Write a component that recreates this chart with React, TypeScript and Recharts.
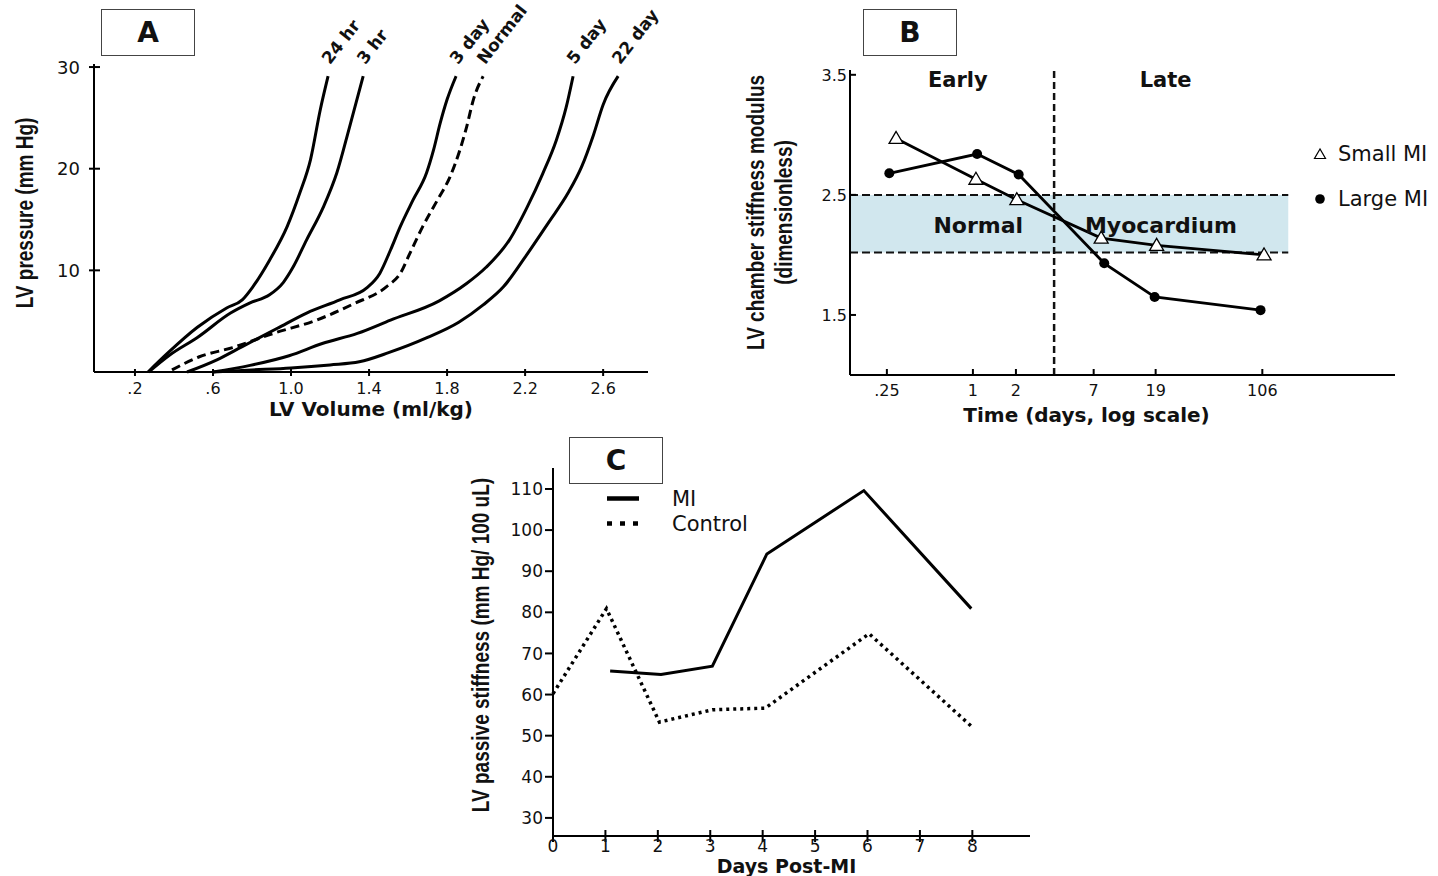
import {
  Label,
  Legend,
  Line,
  LineChart,
  ReferenceArea,
  ReferenceDot,
  ReferenceLine,
  XAxis,
  YAxis
} from "recharts";

const WIDE = '"DejaVu Sans", "Liberation Sans", sans-serif';
const NARROW = '"Liberation Sans", Arial, sans-serif';
const INK = "#111";

// Panel A: LV pressure-volume curves, [volume ml/kg, pressure mm Hg]
const volumeTicks = [0.2, 0.6, 1.0, 1.4, 1.8, 2.2, 2.6];
const pressureTicks = [10, 20, 30];

const pv24hr: [number, number][] = [
  [0.267, 0], [0.37, 1.9], [0.52, 4.4], [0.67, 6.3], [0.75, 7.1], [0.805, 8.4],
  [0.89, 11.0], [0.98, 14.3], [1.045, 17.6], [1.1, 20.9], [1.15, 25.8], [1.19, 29.1]
];
const pv3hr: [number, number][] = [
  [0.27, 0], [0.38, 1.7], [0.52, 3.4], [0.69, 5.8], [0.79, 6.8], [0.89, 7.6],
  [0.96, 8.8], [1.01, 10.3], [1.08, 13.0], [1.165, 16.2], [1.235, 19.6], [1.3, 24.1], [1.37, 29.1]
];
const pv3day: [number, number][] = [
  [0.467, 0], [0.62, 1.2], [0.75, 2.5], [0.93, 4.3], [1.08, 5.8], [1.25, 7.1], [1.39, 8.3],
  [1.455, 9.7], [1.51, 12.0], [1.56, 14.3], [1.625, 16.9], [1.695, 19.6], [1.73, 21.8],
  [1.765, 24.5], [1.8, 26.8], [1.846, 29.1]
];
const pvNormal: [number, number][] = [
  [0.39, 0.2], [0.53, 1.5], [0.7, 2.4], [0.91, 3.8], [1.13, 5.1], [1.32, 6.7], [1.49, 8.4],
  [1.56, 9.7], [1.61, 11.7], [1.675, 14.3], [1.75, 16.9], [1.815, 19.2], [1.865, 21.8],
  [1.9, 24.1], [1.935, 26.8], [1.985, 29.1]
];
const pv5day: [number, number][] = [
  [0.6, 0], [0.79, 0.65], [0.99, 1.6], [1.16, 2.8], [1.34, 3.8], [1.51, 5.1], [1.76, 7.0],
  [1.9, 8.7], [2.0, 10.3], [2.12, 13.0], [2.21, 16.2], [2.29, 19.5], [2.36, 22.8],
  [2.41, 26.0], [2.446, 29.1]
];
const pv22day: [number, number][] = [
  [0.6, 0], [0.8, 0.2], [1.0, 0.4], [1.2, 0.7], [1.35, 1.0], [1.5, 1.9], [1.7, 3.4],
  [1.86, 4.9], [1.985, 6.6], [2.09, 8.4], [2.2, 11.3], [2.32, 14.7], [2.42, 17.6],
  [2.49, 20.2], [2.55, 23.3], [2.6, 26.3], [2.677, 29.1]
];

// Panel B: chamber stiffness modulus vs time (days, log)
const timeTicks = [0.25, 1, 2, 7, 19, 106];
const modulusTicks = [1.5, 2.5, 3.5];
const smallMiDays = [0.29, 1.05, 2.03, 7.9, 19.3, 109];
const smallMiModulus = [2.97, 2.63, 2.46, 2.14, 2.08, 2.0];
const largeMiDays = [0.26, 1.07, 2.09, 8.3, 18.7, 103];
const largeMiModulus = [2.68, 2.84, 2.67, 1.93, 1.65, 1.54];
const normalBand = [2.02, 2.5];
const bandEndDay = 161;
const earlyLateSplit = 3.7;
const timeDomain = [0.138, 899];

// Panel C: passive stiffness vs days post-MI
const dayTicks = [0, 1, 2, 3, 4, 5, 6, 7, 8];
const stiffnessTicks = [30, 40, 50, 60, 70, 80, 90, 100, 110];
const miDays = [1.09, 2.06, 3.04, 4.08, 5.93, 7.98];
const miStiffness = [65.7, 64.9, 66.9, 94.2, 109.6, 80.9];
const controlDays = [0, 1.02, 2.03, 3.04, 4.05, 6.03, 7.98];
const controlStiffness = [60.2, 80.9, 53.3, 56.3, 56.7, 74.8, 52.3];

const fromPairs = (pts: [number, number][]) => pts.map(([x, y]) => ({ x, y }));
const zip = (xs: number[], ys: number[]) => xs.map((x, i) => ({ x, y: ys[i] }));

const pvCurves = [
  { name: "24 hr", data: fromPairs(pv24hr), dashed: false },
  { name: "3 hr", data: fromPairs(pv3hr), dashed: false },
  { name: "3 day", data: fromPairs(pv3day), dashed: false },
  { name: "Normal", data: fromPairs(pvNormal), dashed: true },
  { name: "5 day", data: fromPairs(pv5day), dashed: false },
  { name: "22 day", data: fromPairs(pv22day), dashed: false }
];

type TickOpts = {
  inner: number;
  outer: number;
  gap: number;
  fontSize: number;
  format?: (v: number) => string;
};

function bottomTick(o: TickOpts) {
  return (props: any) => {
    const { x, y, payload } = props;
    const text = o.format ? o.format(payload.value) : String(payload.value);
    return (
      <g>
        <line x1={x} x2={x} y1={y - o.inner} y2={y + o.outer} stroke="#000" strokeWidth={2} />
        <text x={x} y={y + o.gap} textAnchor="middle" fontSize={o.fontSize} fontFamily={WIDE} fill={INK}>
          {text}
        </text>
      </g>
    );
  };
}

function leftTick(o: TickOpts) {
  return (props: any) => {
    const { x, y, payload } = props;
    const text = o.format ? o.format(payload.value) : String(payload.value);
    return (
      <g>
        <line x1={x - o.outer} x2={x + o.inner} y1={y} y2={y} stroke="#000" strokeWidth={2} />
        <text x={x - o.outer - o.gap} y={y} dy="0.36em" textAnchor="end" fontSize={o.fontSize} fontFamily={WIDE} fill={INK}>
          {text}
        </text>
      </g>
    );
  };
}

// rotated axis title; the source figure is stretched sideways, so widen the glyphs a bit
function sideTitle(lines: { text: string; dx: number }[], dy: number) {
  return (props: any) => {
    const vb = props.viewBox || {};
    const cy = (vb.y ?? 0) + (vb.height ?? 0) / 2 + dy;
    return (
      <g>
        {lines.map((l) => {
          const cx = (vb.x ?? 0) + l.dx;
          return (
            <text
              key={l.text}
              x={0}
              y={0}
              transform={`translate(${cx} ${cy}) scale(1.22 1) rotate(-90)`}
              textAnchor="middle"
              dominantBaseline="central"
              fontFamily={NARROW}
              fontWeight="bold"
              fontSize={19}
              fill={INK}
            >
              {l.text}
            </text>
          );
        })}
      </g>
    );
  };
}

function bottomTitle(text: string, dx: number, baseline: number, fontSize: number) {
  return (props: any) => {
    const vb = props.viewBox || {};
    const x = (vb.x ?? 0) + (vb.width ?? 0) / 2 + dx;
    const y = (vb.y ?? 0) + baseline;
    return (
      <text x={x} y={y} textAnchor="middle" fontFamily={WIDE} fontWeight="bold" fontSize={fontSize} fill={INK}>
        {text}
      </text>
    );
  };
}

// label drawn at the top end of each pressure-volume curve
function endLabel(name: string, count: number) {
  return (props: any) => {
    const { cx, cy, index } = props;
    if (index !== count - 1 || cx == null) return <g key={`d${index}`} />;
    const x = cx + 2;
    const y = cy - 11;
    return (
      <text
        key={`d${index}`}
        x={x}
        y={y}
        transform={`rotate(-52, ${x}, ${y})`}
        fontFamily={WIDE}
        fontWeight="bold"
        fontSize={17}
        fill={INK}
      >
        {name}
      </text>
    );
  };
}

const TriangleDot = (props: any) => {
  const { cx, cy, index } = props;
  if (cx == null || cy == null) return <g key={`t${index}`} />;
  return (
    <polygon
      key={`t${index}`}
      points={`${cx},${cy - 7} ${cx - 7},${cy + 5} ${cx + 7},${cy + 5}`}
      fill="#fff"
      stroke="#000"
      strokeWidth={1.3}
    />
  );
};

const seriesB = [
  { name: "Small MI", marker: "triangle" },
  { name: "Large MI", marker: "circle" }
];

const seriesC = [
  { name: "MI", dash: undefined as string | undefined },
  { name: "Control", dash: "5 8" }
];

const legendB = () => (
  <div style={{ fontFamily: WIDE, fontSize: 21, color: INK }}>
    {seriesB.map((s) => (
      <div key={s.name} style={{ display: "flex", alignItems: "center", height: 45 }}>
        <svg width={16} height={16}>
          {s.marker === "triangle" ? (
            <polygon points="8,3 2.5,12.5 13.5,12.5" fill="#fff" stroke="#000" strokeWidth={1.2} />
          ) : (
            <circle cx={8} cy={8} r={4.8} fill="#000" />
          )}
        </svg>
        <span style={{ marginLeft: 10 }}>{s.name}</span>
      </div>
    ))}
  </div>
);

const legendC = () => (
  <div style={{ fontFamily: WIDE, fontSize: 21, color: INK }}>
    {seriesC.map((s) => (
      <div key={s.name} style={{ display: "flex", alignItems: "center", height: 25 }}>
        <svg width={34} height={25}>
          <line x1={0} x2={32} y1={12.5} y2={12.5} stroke="#000" strokeWidth={4.5} strokeDasharray={s.dash} />
        </svg>
        <span style={{ marginLeft: 31 }}>{s.name}</span>
      </div>
    ))}
  </div>
);

function PanelBox({ letter, left, top }: { letter: string; left: number; top: number }) {
  return (
    <div
      style={{
        position: "absolute",
        left,
        top,
        width: 94,
        height: 47,
        boxSizing: "border-box",
        border: "1.5px solid #444",
        background: "#fff",
        display: "flex",
        alignItems: "center",
        justifyContent: "center",
        fontFamily: WIDE,
        fontWeight: "bold",
        fontSize: 28,
        color: INK
      }}
    >
      {letter}
    </div>
  );
}

function PanelA() {
  return (
    <LineChart width={700} height={420} margin={{ top: 64, right: 52, bottom: 8, left: 0 }}>
      <XAxis
        dataKey="x"
        type="number"
        domain={[-0.01, 2.83]}
        ticks={volumeTicks}
        interval={0}
        tickSize={0}
        tickMargin={0}
        tickLine={false}
        height={40}
        axisLine={{ stroke: "#000", strokeWidth: 2 }}
        tick={bottomTick({ inner: 3, outer: 4, gap: 22, fontSize: 16, format: (v) => (v < 1 ? `.${Math.round(v * 10)}` : v.toFixed(1)) })}
      >
        <Label content={bottomTitle("LV Volume (ml/kg)", 0, 44, 20)} />
      </XAxis>
      <YAxis
        type="number"
        domain={[0, 30.3]}
        ticks={pressureTicks}
        interval={0}
        width={94}
        tickSize={0}
        tickMargin={0}
        tickLine={false}
        axisLine={{ stroke: "#000", strokeWidth: 2 }}
        tick={leftTick({ inner: 6, outer: 5, gap: 9, fontSize: 18 })}
      >
        <Label content={sideTitle([{ text: "LV pressure (mm Hg)", dx: 25 }], -5)} />
      </YAxis>
      {pvCurves.map((c) => (
        <Line
          key={c.name}
          name={c.name}
          data={c.data}
          dataKey="y"
          type="monotone"
          stroke="#000"
          strokeWidth={3}
          strokeDasharray={c.dashed ? "9 5" : undefined}
          dot={endLabel(c.name, c.data.length)}
          activeDot={false}
          isAnimationActive={false}
        />
      ))}
    </LineChart>
  );
}

function PanelB() {
  return (
    <LineChart width={738} height={430} margin={{ top: 70, right: 43, bottom: 5, left: 0 }}>
      <XAxis
        dataKey="x"
        type="number"
        scale="log"
        domain={timeDomain}
        allowDataOverflow
        ticks={timeTicks}
        interval={0}
        tickSize={0}
        tickMargin={0}
        tickLine={false}
        height={50}
        axisLine={{ stroke: "#000", strokeWidth: 2 }}
        tick={bottomTick({ inner: 6, outer: 0, gap: 21, fontSize: 16, format: (v) => (v < 1 ? ".25" : String(v)) })}
      >
        <Label content={bottomTitle("Time (days, log scale)", -36, 47, 20)} />
      </XAxis>
      <YAxis
        type="number"
        domain={[1, 3.54]}
        ticks={modulusTicks}
        interval={0}
        width={150}
        tickSize={0}
        tickMargin={0}
        tickLine={false}
        axisLine={{ stroke: "#000", strokeWidth: 2 }}
        tick={leftTick({ inner: 6, outer: 0, gap: 3, fontSize: 16, format: (v) => v.toFixed(1) })}
      >
        <Label
          content={sideTitle(
            [
              { text: "LV chamber stiffness modulus", dx: 56 },
              { text: "(dimensionless)", dx: 84 }
            ],
            -10
          )}
        />
      </YAxis>
      <ReferenceLine x={earlyLateSplit} stroke="#111" strokeWidth={2.5} strokeDasharray="7 4" />
      <ReferenceArea
        x1={timeDomain[0]}
        x2={bandEndDay}
        y1={normalBand[0]}
        y2={normalBand[1]}
        fill="#c9e3eb"
        fillOpacity={0.85}
        stroke="none"
      />
      {normalBand.map((v) => (
        <ReferenceLine
          key={v}
          segment={[
            { x: timeDomain[0], y: v },
            { x: bandEndDay, y: v }
          ]}
          stroke="#111"
          strokeWidth={2}
          strokeDasharray="8 4"
        />
      ))}
      <ReferenceDot x={0.785} y={3.46} r={0} fill="none" stroke="none" ifOverflow="visible"
        label={{ value: "Early", position: "center", fontSize: 21, fontWeight: "bold", fontFamily: WIDE, fill: INK }} />
      <ReferenceDot x={22.3} y={3.46} r={0} fill="none" stroke="none" ifOverflow="visible"
        label={{ value: "Late", position: "center", fontSize: 21, fontWeight: "bold", fontFamily: WIDE, fill: INK }} />
      <ReferenceDot x={1.09} y={2.25} r={0} fill="none" stroke="none" ifOverflow="visible"
        label={{ value: "Normal", position: "center", fontSize: 22, fontWeight: "bold", fontFamily: WIDE, fill: INK }} />
      <ReferenceDot x={20.7} y={2.25} r={0} fill="none" stroke="none" ifOverflow="visible"
        label={{ value: "Myocardium", position: "center", fontSize: 22, fontWeight: "bold", fontFamily: WIDE, fill: INK }} />
      <Line
        name="Large MI"
        data={zip(largeMiDays, largeMiModulus)}
        dataKey="y"
        type="linear"
        stroke="#000"
        strokeWidth={2.8}
        dot={{ r: 5, fill: "#000", stroke: "#000", strokeWidth: 0 }}
        activeDot={false}
        isAnimationActive={false}
      />
      <Line
        name="Small MI"
        data={zip(smallMiDays, smallMiModulus)}
        dataKey="y"
        type="linear"
        stroke="#000"
        strokeWidth={2.8}
        dot={TriangleDot}
        activeDot={false}
        isAnimationActive={false}
      />
      <Legend
        layout="vertical"
        align="center"
        verticalAlign="middle"
        content={legendB}
        wrapperStyle={{ left: 612, top: 131, width: 140 }}
      />
    </LineChart>
  );
}

function PanelC() {
  return (
    <LineChart width={600} height={446} margin={{ top: 38, right: 10, bottom: 0, left: 0 }}>
      <XAxis
        dataKey="x"
        type="number"
        domain={[0, 9.1]}
        ticks={dayTicks}
        interval={0}
        tickSize={0}
        tickMargin={0}
        tickLine={false}
        height={40}
        axisLine={{ stroke: "#000", strokeWidth: 2 }}
        tick={bottomTick({ inner: 6, outer: 6, gap: 16, fontSize: 17 })}
      >
        <Label content={bottomTitle("Days Post-MI", -5, 37, 19)} />
      </XAxis>
      <YAxis
        type="number"
        domain={[25.6, 115.1]}
        ticks={stiffnessTicks}
        interval={0}
        width={113}
        tickSize={0}
        tickMargin={0}
        tickLine={false}
        axisLine={{ stroke: "#000", strokeWidth: 2 }}
        tick={leftTick({ inner: 0, outer: 8, gap: 2, fontSize: 17 })}
      >
        <Label content={sideTitle([{ text: "LV passive stiffness (mm Hg/ 100 uL)", dx: 41 }], -7)} />
      </YAxis>
      <Line
        name="Control"
        data={zip(controlDays, controlStiffness)}
        dataKey="y"
        type="linear"
        stroke="#000"
        strokeWidth={3.5}
        strokeDasharray="3 4"
        dot={false}
        activeDot={false}
        isAnimationActive={false}
      />
      <Line
        name="MI"
        data={zip(miDays, miStiffness)}
        dataKey="y"
        type="linear"
        stroke="#000"
        strokeWidth={3}
        dot={false}
        activeDot={false}
        isAnimationActive={false}
      />
      <Legend
        layout="vertical"
        align="center"
        verticalAlign="middle"
        content={legendC}
        wrapperStyle={{ left: 167, top: 56, width: 180 }}
      />
    </LineChart>
  );
}

export default function App() {
  return (
    <div style={{ position: "absolute", left: 0, top: 0, width: 1438, height: 876, background: "#fff", overflow: "hidden" }}>
      <div style={{ position: "absolute", left: 0, top: 0 }}>
        <PanelA />
      </div>
      <div style={{ position: "absolute", left: 700, top: 0 }}>
        <PanelB />
      </div>
      <div style={{ position: "absolute", left: 440, top: 430 }}>
        <PanelC />
      </div>
      <PanelBox letter="A" left={101} top={9} />
      <PanelBox letter="B" left={863} top={9} />
      <PanelBox letter="C" left={569} top={437} />
    </div>
  );
}
